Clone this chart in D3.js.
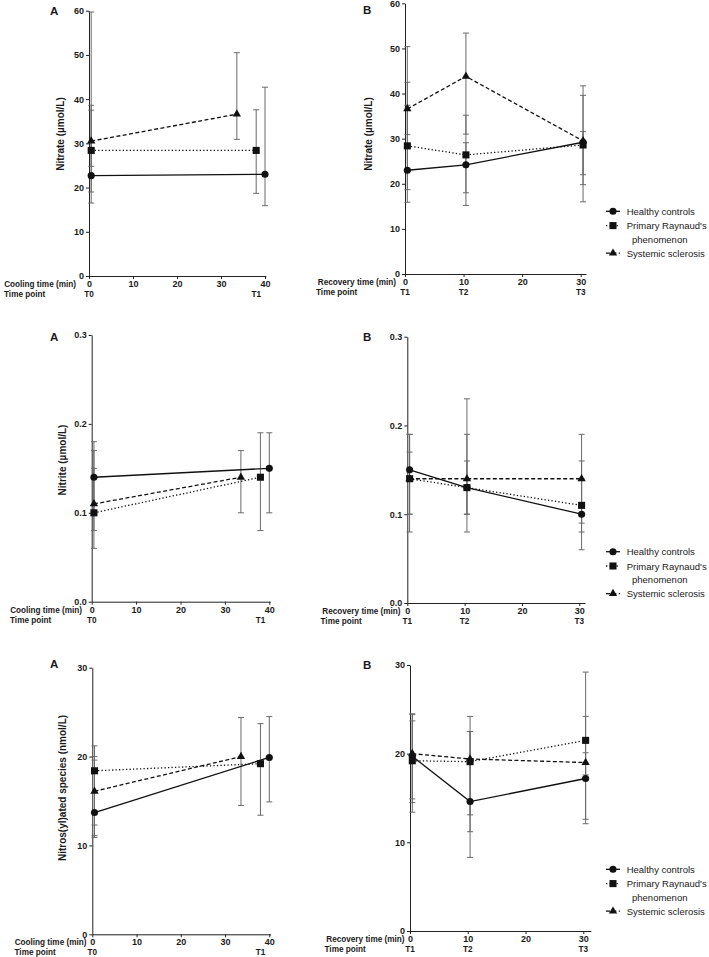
<!DOCTYPE html>
<html lang="en">
<head>
<meta charset="utf-8">
<title>Nitrate, nitrite and nitros(yl)ated species during cooling and recovery</title>
<script src="https://d3js.org/d3.v7.min.js"></script>
<style>
  body { margin: 0; background: #fff; }
  svg text { font-family: "Liberation Sans", Arial, sans-serif; fill: #1a1a1a; }
  .axis .tick text { font-size: 9px; font-weight: bold; }
  .axis path, .axis line { stroke: #222; }
  .lab { font-size: 8.2px; font-weight: bold; }
  .ytitle { font-size: 10px; font-weight: bold; }
  .letter { font-size: 11.5px; font-weight: bold; }
  .legend text { font-size: 9.5px; }
</style>
</head>
<body>
<script>

// groups, always in this order: healthy, primary Raynaud's, systemic sclerosis
var groups = ["Healthy controls", "Primary Raynaud's phenomenon", "Systemic sclerosis"];

// time of each measurement (min) per group
var coolingTimes  = [[0.5, 40], [0.5, 38], [0.5, 33.6]];
var recoveryTimes = [[0.4, 10.4, 30.4], [0.4, 10.4, 30.4], [0.4, 10.4, 30.4]];

// x ticks and time point labels
var coolingTicks  = [0, 10, 20, 30, 40];
var recoveryTicks = [0, 10, 20, 30];
var coolingPoints  = ["T0", "T1"];
var coolingPointAt = [0, 38];
var recoveryPoints  = ["T1", "T2", "T3"];
var recoveryPointAt = [0, 10, 30];

// y ticks
var nitrateTicks = [0, 10, 20, 30, 40, 50, 60];
var nitriteTicks = [0, 0.1, 0.2, 0.3];
var nitrosTicks  = [0, 10, 20, 30];

// Nitrate (umol/L)
var nitrateA_mean = [[22.7, 23.0], [28.4, 28.4], [30.5, 36.6]];
var nitrateA_low  = [[16.5, 15.9], [19.0, 18.7], [24.8, 30.9]];
var nitrateA_high = [[38.6, 42.7], [37.5, 37.6], [59.7, 50.5]];

var nitrateB_mean = [[23.0, 24.2, 29.2], [28.4, 26.4, 28.6], [36.6, 43.8, 29.5]];
var nitrateB_low  = [[15.9, 18.0, 16.0], [18.7, 15.2, 19.8], [30.9, 31.0, 22.0]];
var nitrateB_high = [[42.5, 35.2, 39.6], [37.4, 29.1, 31.6], [50.4, 53.4, 41.7]];

// Nitrite (umol/L)
var nitriteA_mean = [[0.14, 0.15], [0.10, 0.14], [0.11, 0.14]];
var nitriteA_low  = [[0.10, 0.10], [0.06, 0.08], [0.08, 0.10]];
var nitriteA_high = [[0.18, 0.19], [0.15, 0.19], [0.17, 0.17]];

var nitriteB_mean = [[0.15, 0.13, 0.10], [0.14, 0.13, 0.11], [0.14, 0.14, 0.14]];
var nitriteB_low  = [[0.10, 0.10, 0.06], [0.08, 0.08, 0.08], [0.10, 0.10, 0.09]];
var nitriteB_high = [[0.19, 0.16, 0.14], [0.19, 0.19, 0.16], [0.17, 0.23, 0.19]];

// Nitros(yl)ated species (nmol/L)
var nitrosA_mean = [[13.7, 19.9], [18.4, 19.2], [16.1, 20.0]];
var nitrosA_low  = [[11.1, 14.9], [12.3, 13.4], [10.9, 14.5]];
var nitrosA_high = [[20.0, 24.5], [21.2, 23.7], [19.6, 24.4]];

var nitrosB_mean = [[19.7, 14.6, 17.2], [19.2, 19.1, 21.5], [20.0, 19.4, 19.0]];
var nitrosB_low  = [[14.9, 8.3, 12.1], [13.4, 11.2, 12.6], [14.5, 13.1, 17.6]];
var nitrosB_high = [[24.5, 22.5, 20.1], [23.7, 24.2, 29.2], [24.4, 22.5, 24.2]];

//line dash and marker per group
var dashes  = [null, "1.3,2.2", "4,2.4"];
var symbols = [d3.symbolCircle, d3.symbolSquare, d3.symbolTriangle];
var symSize = [40, 50, 30];

var w = 709, h = 957;
var svg = d3.select("body").append("svg")
            .attr("width", w)
            .attr("height", h);

//panel frames (pixel layout)
var panels = [
  { letter: "A", lx: 50, ly: 15, ytitle: "Nitrate (µmol/L)", tx: 64, ty: 134,
    mean: nitrateA_mean, low: nitrateA_low, high: nitrateA_high, times: coolingTimes,
    yTicks: nitrateTicks, yFmt: d3.format("d"), yTop: 60,
    xTicks: coolingTicks, pts: coolingPoints, ptAt: coolingPointAt, xlab: "Cooling time (min)", labEnd: 76,
    x0: 89, ppm: 4.4, xEnd: 40.2, yb: 276, yt: 10.7, legendY: null },
  { letter: "B", lx: 363, ly: 14, ytitle: "Nitrate (µmol/L)", tx: 372, ty: 134,
    mean: nitrateB_mean, low: nitrateB_low, high: nitrateB_high, times: recoveryTimes,
    yTicks: nitrateTicks, yFmt: d3.format("d"), yTop: 60,
    xTicks: recoveryTicks, pts: recoveryPoints, ptAt: recoveryPointAt, xlab: "Recovery time (min)", labEnd: 396,
    x0: 405, ppm: 5.857, xEnd: 30.9, yb: 274, yt: 3.3, legendY: 211.3 },
  { letter: "A", lx: 50, ly: 341, ytitle: "Nitrite (µmol/L)", tx: 66, ty: 460,
    mean: nitriteA_mean, low: nitriteA_low, high: nitriteA_high, times: coolingTimes,
    yTicks: nitriteTicks, yFmt: d3.format(".1f"), yTop: 0.3,
    xTicks: coolingTicks, pts: coolingPoints, ptAt: coolingPointAt, xlab: "Cooling time (min)", labEnd: 82,
    x0: 91.7, ppm: 4.44, xEnd: 40.2, yb: 601.7, yt: 335, legendY: null },
  { letter: "B", lx: 363, ly: 341, ytitle: null,
    mean: nitriteB_mean, low: nitriteB_low, high: nitriteB_high, times: recoveryTimes,
    yTicks: nitriteTicks, yFmt: d3.format(".1f"), yTop: 0.3,
    xTicks: recoveryTicks, pts: recoveryPoints, ptAt: recoveryPointAt, xlab: "Recovery time (min)", labEnd: 400.5,
    x0: 407.3, ppm: 5.733, xEnd: 31, yb: 603, yt: 336.7, legendY: 551.7 },
  { letter: "A", lx: 50, ly: 668, ytitle: "Nitros(yl)ated species (nmol/L)", tx: 66, ty: 788,
    mean: nitrosA_mean, low: nitrosA_low, high: nitrosA_high, times: coolingTimes,
    yTicks: nitrosTicks, yFmt: d3.format("d"), yTop: 30,
    xTicks: coolingTicks, pts: coolingPoints, ptAt: coolingPointAt, xlab: "Cooling time (min)", labEnd: 86.5,
    x0: 92.3, ppm: 4.425, xEnd: 40.3, yb: 934.3, yt: 667.7, legendY: null },
  { letter: "B", lx: 363, ly: 669, ytitle: null,
    mean: nitrosB_mean, low: nitrosB_low, high: nitrosB_high, times: recoveryTimes,
    yTicks: nitrosTicks, yFmt: d3.format("d"), yTop: 30,
    xTicks: recoveryTicks, pts: recoveryPoints, ptAt: recoveryPointAt, xlab: "Recovery time (min)", labEnd: 404.5,
    x0: 410, ppm: 5.777, xEnd: 31.3, yb: 931, yt: 665, legendY: 869.3 }
];

panels.forEach(function(p) {
  var g = svg.append("g");

  var xScale = d3.scaleLinear()
                 .domain([0, p.xEnd])
                 .range([p.x0, p.x0 + p.ppm * p.xEnd]);
  var yScale = d3.scaleLinear()
                 .domain([0, p.yTop])
                 .range([p.yb, p.yt]);

  //Y axis
  g.append("g")
   .attr("class", "axis")
   .attr("transform", "translate(" + p.x0 + ",0)")
   .call(d3.axisLeft(yScale).tickValues(p.yTicks).tickFormat(p.yFmt)
           .tickSize(3).tickSizeOuter(0).tickPadding(2));

  //X axis
  g.append("g")
   .attr("class", "axis")
   .attr("transform", "translate(0," + p.yb + ")")
   .call(d3.axisBottom(xScale).tickValues(p.xTicks).tickFormat(d3.format("d"))
           .tickSize(3).tickSizeOuter(0).tickPadding(1.5));

  //time point labels
  g.selectAll(".tp")
   .data(p.pts)
   .enter()
   .append("text")
   .attr("class", "lab")
   .attr("text-anchor", "middle")
   .attr("font-size", "9px")
   .attr("x", function(d, i) { return xScale(p.ptAt[i]); })
   .attr("y", p.yb + 21)
   .text(function(d) { return d; });

  g.append("text").attr("class", "lab")
   .attr("text-anchor", "end")
   .attr("x", p.labEnd).attr("y", p.yb + 11)
   .text(p.xlab);
  g.append("text").attr("class", "lab")
   .attr("x", p.labEnd - (p.xlab == "Cooling time (min)" ? 72 : 80))
   .attr("y", p.yb + 21)
   .text("Time point");

  //panel letter
  g.append("text").attr("class", "letter")
   .attr("x", p.lx).attr("y", p.ly)
   .text(p.letter);

  //y title
  if (p.ytitle) {
    g.append("text").attr("class", "ytitle")
     .attr("text-anchor", "middle")
     .attr("transform", "translate(" + p.tx + "," + p.ty + ") rotate(-90)")
     .text(p.ytitle);
  }

  //error bars
  groups.forEach(function(name, gi) {
    var eb = g.append("g").attr("stroke", "#6a6a6a").attr("stroke-width", 1);
    p.mean[gi].forEach(function(m, k) {
      var x = xScale(p.times[gi][k]);
      var lo = yScale(p.low[gi][k]), hi = yScale(p.high[gi][k]);
      eb.append("line").attr("x1", x).attr("x2", x).attr("y1", lo).attr("y2", hi);
      eb.append("line").attr("x1", x - 3).attr("x2", x + 3).attr("y1", lo).attr("y2", lo);
      eb.append("line").attr("x1", x - 3).attr("x2", x + 3).attr("y1", hi).attr("y2", hi);
    });
  });

  //lines
  var line = d3.line()
               .x(function(d) { return xScale(d[0]); })
               .y(function(d) { return yScale(d[1]); });

  groups.forEach(function(name, gi) {
    var pts = p.mean[gi].map(function(m, k) { return [p.times[gi][k], m]; });
    g.append("path")
     .datum(pts)
     .attr("d", line)
     .attr("fill", "none")
     .attr("stroke", "#111")
     .attr("stroke-width", 1.3)
     .attr("stroke-dasharray", dashes[gi]);
  });

  //markers
  groups.forEach(function(name, gi) {
    g.selectAll(".m" + gi)
     .data(p.mean[gi])
     .enter()
     .append("path")
     .attr("d", d3.symbol().type(symbols[gi]).size(symSize[gi]))
     .attr("transform", function(m, k) {
        return "translate(" + xScale(p.times[gi][k]) + "," + yScale(m) + ")";
     })
     .attr("fill", "#111");
  });

  //legend
  if (p.legendY != null) {
    var rows = [0, 14.3, 41.9];
    var lg = g.append("g").attr("class", "legend");
    groups.forEach(function(name, gi) {
      var y = p.legendY + rows[gi];
      lg.append("line")
        .attr("x1", 606).attr("x2", 620).attr("y1", y).attr("y2", y)
        .attr("stroke", "#111").attr("stroke-width", 1.3)
        .attr("stroke-dasharray", dashes[gi]);
      lg.append("path")
        .attr("d", d3.symbol().type(symbols[gi]).size(symSize[gi]))
        .attr("transform", "translate(613," + y + ")")
        .attr("fill", "#111");
    });
    lg.append("text").attr("x", 626.7).attr("y", p.legendY + 3.5).text("Healthy controls");
    lg.append("text").attr("x", 626.7).attr("y", p.legendY + 14.3 + 3.5).text("Primary Raynaud's");
    lg.append("text").attr("x", 632).attr("y", p.legendY + 28 + 3.5).text("phenomenon");
    lg.append("text").attr("x", 626.7).attr("y", p.legendY + 41.9 + 3.5).text("Systemic sclerosis");
  }
});

</script>
</body>
</html>
